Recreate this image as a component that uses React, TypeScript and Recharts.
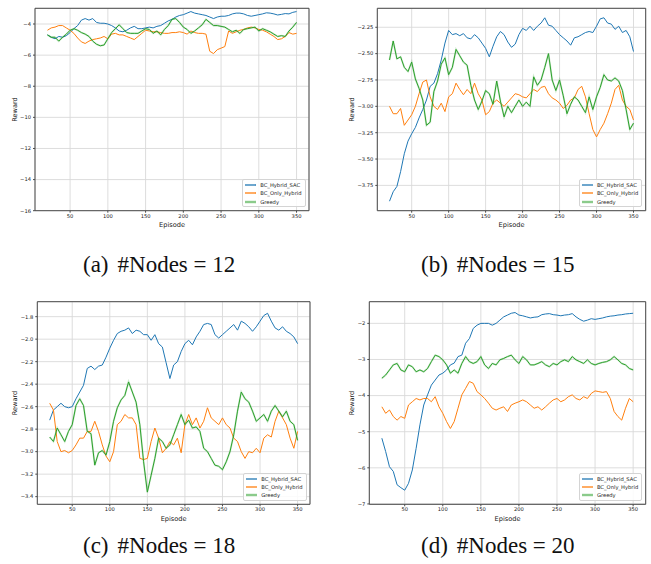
import {
  CartesianGrid,
  Label,
  Legend,
  Line,
  LineChart,
  ReferenceArea,
  XAxis,
  YAxis,
} from "recharts";

const EPISODES = [
  20, 25, 30, 35, 40, 45, 50, 55, 60, 65, 70, 75, 80, 85, 90, 95, 100, 105, 110, 115,
  120, 125, 130, 135, 140, 145, 150, 155, 160, 165, 170, 175, 180, 185, 190, 195, 200,
  205, 210, 215, 220, 225, 230, 235, 240, 245, 250, 255, 260, 265, 270, 275, 280, 285,
  290, 295, 300, 305, 310, 315, 320, 325, 330, 335, 340, 345, 350,
];

// #Nodes = 12
const N12_SAC = [
  -4.7, -4.85, -4.95, -4.8, -4.85, -4.75, -4.55, -4.3, -4.1, -3.75,
  -3.65, -3.75, -3.65, -3.9, -3.95, -3.95, -4.0, -4.1, -4.25, -4.45,
  -4.5, -4.4, -4.25, -4.15, -4.3, -4.3, -4.25, -4.2, -4.25, -4.15,
  -4.1, -3.95, -3.8, -3.7, -3.55, -3.45, -3.4, -3.3, -3.2, -3.3,
  -3.35, -3.4, -3.45, -3.55, -3.65, -3.55, -3.5, -3.5, -3.45, -3.35,
  -3.3, -3.3, -3.35, -3.45, -3.5, -3.45, -3.4, -3.35, -3.28, -3.3,
  -3.35, -3.42, -3.38, -3.33, -3.35, -3.25, -3.2,
];
const N12_ONLY = [
  -4.4, -4.25, -4.2, -4.1, -4.1, -4.25, -4.4, -4.6, -4.9, -5.15,
  -5.25, -5.1, -5.0, -4.95, -4.9, -4.8, -4.95, -4.65, -4.6, -4.7,
  -4.7, -4.8, -4.9, -5.0, -4.8, -4.6, -4.4, -4.45, -4.5, -4.5,
  -4.55, -4.6, -4.6, -4.55, -4.55, -4.5, -4.55, -4.65, -4.45, -4.55,
  -4.6, -4.6, -4.65, -5.75, -5.9, -5.65, -5.55, -5.45, -4.45, -4.6,
  -4.5, -4.4, -4.35, -4.25, -4.2, -4.25, -4.35, -4.4, -4.5, -4.65,
  -4.8, -5.0, -4.95, -4.8, -4.55, -4.65, -4.6,
];
const N12_GREEDY = [
  -4.7, -4.85, -4.85, -5.1, -4.85, -4.65, -4.4, -4.3, -4.4, -4.55,
  -4.65, -4.8, -5.1, -5.3, -5.4, -5.35, -4.95, -4.55, -4.3, -4.05,
  -4.3, -4.55, -4.6, -4.6, -4.6, -4.45, -4.3, -4.35, -4.6, -4.45,
  -4.7, -4.35, -4.1, -3.7, -3.65, -3.9, -4.2, -4.35, -4.6, -4.45,
  -4.25, -4.05, -3.7, -3.9, -4.1, -4.1, -4.15, -4.2, -4.35, -4.5,
  -4.4, -4.6, -4.35, -4.3, -4.25, -4.2, -4.45, -4.3, -4.4, -4.5,
  -4.65, -4.8, -4.75, -4.8, -4.45, -4.2, -3.9,
];

// #Nodes = 15
const N15_SAC = [
  -3.9, -3.81, -3.76, -3.62, -3.45, -3.33, -3.26, -3.2, -3.11, -3.03,
  -2.94, -2.81, -2.78, -2.69, -2.56, -2.4, -2.28, -2.32, -2.31, -2.33,
  -2.31, -2.35, -2.36, -2.32, -2.35, -2.4, -2.45, -2.53, -2.43, -2.34,
  -2.29, -2.32, -2.39, -2.44, -2.41, -2.32, -2.26, -2.28, -2.24, -2.28,
  -2.24, -2.21, -2.16, -2.23, -2.24, -2.28, -2.32, -2.35, -2.38, -2.42,
  -2.35, -2.34, -2.32, -2.3, -2.29, -2.3, -2.24, -2.17, -2.16, -2.21,
  -2.22, -2.27, -2.24, -2.3, -2.28, -2.34, -2.48,
];
const N15_ONLY = [
  -3.0, -3.07, -3.07, -3.02, -3.18, -3.13, -3.08, -3.0, -2.88, -2.77,
  -2.75, -2.91, -3.0, -3.03, -2.97, -3.05, -2.91, -2.88, -2.78, -2.84,
  -2.89, -2.84, -2.88, -2.78, -2.88, -2.94, -3.08, -3.05, -2.97, -2.94,
  -2.97, -3.0, -2.96, -2.92, -2.88, -2.89, -2.91, -2.92, -2.88, -2.84,
  -2.86, -2.82, -2.81, -2.88, -2.92, -2.94, -2.97, -3.02, -2.99, -2.94,
  -2.92, -2.84, -2.81, -2.91, -3.07, -3.22, -3.29, -3.22, -3.16, -3.07,
  -2.97, -2.84, -2.8, -2.94, -3.0, -3.03, -3.13,
];
const N15_GREEDY = [
  -2.56, -2.38, -2.55, -2.53, -2.63, -2.67, -2.58, -2.74, -2.83, -2.94,
  -3.18, -3.15, -2.86, -2.76, -2.6, -2.54, -2.7, -2.63, -2.46, -2.52,
  -2.58, -2.61, -2.8, -2.94, -3.03, -2.95, -2.85, -2.88, -2.98, -2.76,
  -2.95, -3.1, -3.0, -3.06, -3.0, -2.94, -3.0, -2.96, -3.0, -2.72,
  -2.8, -2.75, -2.63, -2.5, -2.75, -2.85, -2.75, -2.9, -3.07, -2.98,
  -2.91, -2.94, -3.0, -3.06, -2.91, -3.03, -2.91, -2.82, -2.7, -2.75,
  -2.76, -2.73, -2.76, -2.85, -3.03, -3.22, -3.16,
];

// #Nodes = 18
const N18_SAC = [
  -2.72, -2.63, -2.6, -2.57, -2.6, -2.61, -2.6, -2.53, -2.47, -2.41,
  -2.26, -2.24, -2.27, -2.24, -2.23, -2.16, -2.08, -2.01, -1.95, -1.93,
  -1.92, -1.9, -1.95, -1.92, -1.93, -1.96, -1.96, -2.01, -1.96, -2.04,
  -2.07, -2.21, -2.35, -2.23, -2.2, -2.11, -2.04, -2.01, -2.05, -1.98,
  -1.93, -1.87, -1.86, -1.87, -1.96, -1.99, -1.96, -1.93, -1.9, -1.87,
  -1.92, -1.84, -1.86, -1.89, -1.93, -1.89, -1.84, -1.79, -1.77, -1.84,
  -1.9, -1.92, -1.89, -1.93, -1.95, -1.98, -2.04,
];
const N18_ONLY = [
  -2.57, -2.63, -2.91, -3.0, -2.99, -3.01, -2.99, -2.94, -2.88, -2.88,
  -2.82, -2.82, -2.73, -2.82, -2.94, -3.04, -3.09, -3.0, -2.76, -2.73,
  -2.67, -2.7, -2.7, -2.76, -3.06, -3.07, -3.06, -2.91, -2.79, -2.88,
  -3.01, -2.97, -2.91, -2.94, -2.88, -3.01, -2.76, -2.67, -2.76, -2.7,
  -2.79, -2.73, -2.61, -2.7, -2.73, -2.76, -2.7, -2.76, -2.79, -2.88,
  -2.91, -3.0, -3.06, -3.0, -3.01, -2.97, -3.01, -2.88, -2.85, -2.87,
  -2.73, -2.64, -2.7, -2.76, -2.88, -2.97, -2.82,
];
const N18_GREEDY = [
  -2.87, -2.91, -2.79, -2.85, -2.91, -2.82, -2.76, -2.59, -2.53, -2.59,
  -2.82, -2.84, -3.12, -3.01, -2.99, -3.03, -2.91, -2.73, -2.61, -2.54,
  -2.5, -2.38, -2.47, -2.56, -2.76, -3.09, -3.36, -3.21, -3.06, -2.88,
  -2.91, -2.97, -2.94, -2.85, -2.76, -2.67, -2.76, -2.72, -2.79, -2.78,
  -2.82, -2.97, -3.0, -3.06, -3.12, -3.13, -3.16, -3.09, -3.0, -2.85,
  -2.64, -2.47, -2.53, -2.56, -2.64, -2.73, -2.7, -2.67, -2.73, -2.64,
  -2.59, -2.64, -2.69, -2.64, -2.73, -2.76, -2.9,
];

// #Nodes = 20
const N20_SAC = [
  -5.18, -5.55, -5.97, -6.1, -6.47, -6.55, -6.62, -6.43, -6.06, -5.46,
  -4.81, -4.26, -3.98, -3.71, -3.57, -3.43, -3.38, -3.29, -3.15, -3.1,
  -2.92, -2.88, -2.55, -2.42, -2.14, -2.05, -2.0, -2.0, -2.0, -2.05,
  -2.0, -1.91, -1.82, -1.77, -1.72, -1.7, -1.77, -1.79, -1.82, -1.85,
  -1.83, -1.82, -1.76, -1.74, -1.73, -1.76, -1.77, -1.79, -1.77, -1.76,
  -1.73, -1.82, -1.89, -1.94, -1.91, -1.87, -1.89, -1.87, -1.85, -1.82,
  -1.8, -1.79, -1.77, -1.76, -1.74, -1.73, -1.72,
];
const N20_ONLY = [
  -4.31, -4.49, -4.4, -4.58, -4.68, -4.58, -4.63, -4.26, -4.17, -4.08,
  -4.12, -4.08, -4.08, -4.17, -4.03, -4.31, -4.49, -4.72, -4.91, -4.72,
  -4.35, -3.98, -3.8, -3.61, -3.66, -3.89, -3.98, -4.08, -4.21, -4.35,
  -4.4, -4.35, -4.31, -4.44, -4.26, -4.21, -4.17, -4.12, -4.17, -4.26,
  -4.35, -4.31, -4.4, -4.31, -4.21, -4.12, -4.08, -4.17, -4.12, -4.03,
  -3.98, -4.08, -4.12, -4.03, -4.08, -3.94, -3.87, -3.89, -3.91, -3.89,
  -4.08, -4.44, -4.58, -4.68, -4.35, -4.08, -4.17,
];
const N20_GREEDY = [
  -3.52, -3.43, -3.29, -3.15, -3.11, -3.29, -3.34, -3.15, -3.2, -3.34,
  -3.29, -3.34, -3.25, -3.06, -2.88, -2.92, -3.01, -3.15, -3.38, -3.29,
  -3.38, -3.11, -2.92, -3.06, -3.11, -3.06, -2.92, -3.15, -3.25, -3.11,
  -3.15, -3.01, -2.97, -2.92, -2.88, -3.01, -3.11, -2.92, -3.01, -3.15,
  -3.15, -3.11, -3.06, -3.15, -3.2, -3.11, -3.15, -3.06, -3.01, -3.06,
  -2.92, -3.01, -3.06, -3.11, -3.01, -3.11, -3.15, -3.11, -3.08, -3.06,
  -3.01, -2.92, -3.01, -3.11, -3.15, -3.25, -3.29,
];

const X_TICKS = [50, 100, 150, 200, 250, 300, 350];
const X_DOMAIN: [number, number] = [3.5, 366.5];

const SERIES = [
  { key: "sac", label: "BC_Hybrid_SAC", color: "#1f77b4" },
  { key: "only", label: "BC_Only_Hybrid", color: "#ff7f0e" },
  { key: "greedy", label: "Greedy", color: "#2ca02c" },
] as const;

const TICK_FONT = { fill: "#222", fontSize: 5.2, fontFamily: "DejaVu Sans" };
const GRID = "#d9d9d9";
const FRAME = "#4a4a4a";

// page-space boxes for each subplot: chart box, plot area, y-label x
const PANELS = [
  {
    tag: "(a)",
    caption: "#Nodes = 12",
    sac: N12_SAC,
    only: N12_ONLY,
    greedy: N12_GREEDY,
    yDomain: [-16, -2.99] as [number, number],
    yTicks: [-16, -14, -12, -10, -8, -6, -4],
    digits: 0,
    box: { x: 0, y: 0, w: 325, h: 240 },
    plot: { l: 35, t: 8.3, r: 309, b: 210.7 },
    rewardX: 15,
    caption_x: 83,
    caption_y: 253.3,
  },
  {
    tag: "(b)",
    caption: "#Nodes = 15",
    sac: N15_SAC,
    only: N15_ONLY,
    greedy: N15_GREEDY,
    yDomain: [-3.99, -2.07] as [number, number],
    yTicks: [-3.75, -3.5, -3.25, -3.0, -2.75, -2.5, -2.25],
    digits: 2,
    box: { x: 325, y: 0, w: 326, h: 240 },
    plot: { l: 377.3, t: 8.3, r: 645.7, b: 210.7 },
    rewardX: 352,
    caption_x: 421,
    caption_y: 253.3,
  },
  {
    tag: "(c)",
    caption: "#Nodes = 18",
    sac: N18_SAC,
    only: N18_ONLY,
    greedy: N18_GREEDY,
    yDomain: [-3.468, -1.667] as [number, number],
    yTicks: [-3.4, -3.2, -3.0, -2.8, -2.6, -2.4, -2.2, -2.0, -1.8],
    digits: 1,
    box: { x: 0, y: 285, w: 325, h: 240 },
    plot: { l: 37.3, t: 301.7, r: 310, b: 504.3 },
    rewardX: 15,
    caption_x: 83,
    caption_y: 534.1,
  },
  {
    tag: "(d)",
    caption: "#Nodes = 20",
    sac: N20_SAC,
    only: N20_ONLY,
    greedy: N20_GREEDY,
    yDomain: [-7.01, -1.4] as [number, number],
    yTicks: [-7, -6, -5, -4, -3, -2],
    digits: 0,
    box: { x: 325, y: 285, w: 326, h: 240 },
    plot: { l: 369.3, t: 301.7, r: 645.7, b: 504.3 },
    rewardX: 352,
    caption_x: 421,
    caption_y: 534.1,
  },
];

type Panel = (typeof PANELS)[number];

function fmt(digits: number) {
  return (v: number) =>
    v < 0 ? `\u2212${Math.abs(v).toFixed(digits)}` : v.toFixed(digits);
}

function LegendBox() {
  return (
    <div
      style={{
        border: "1px solid #d4d4d4",
        borderRadius: 2,
        background: "rgba(255,255,255,0.85)",
        padding: "0.5px 3px 0.5px 2px",
        fontFamily: "DejaVu Sans",
        fontSize: 5.2,
        color: "#222",
      }}
    >
      {SERIES.map((s) => (
        <div key={s.key} style={{ display: "flex", alignItems: "center", height: 8.3 }}>
          <svg width={11} height={4} style={{ marginRight: 4 }}>
            <line
              x1={0}
              x2={11}
              y1={2}
              y2={2}
              stroke={s.color}
              strokeWidth={s.key === "greedy" ? 2.4 : 1.3}
              strokeOpacity={s.key === "greedy" ? 0.55 : 1}
            />
          </svg>
          <span style={{ whiteSpace: "nowrap" }}>{s.label}</span>
        </div>
      ))}
    </div>
  );
}

function RewardChart({ p }: { p: Panel }) {
  const rows = EPISODES.map((ep, i) => ({
    ep,
    sac: p.sac[i],
    only: p.only[i],
    greedy: p.greedy[i],
  }));
  const yAxisWidth = p.plot.l - p.box.x;
  const xAxisHeight = p.box.y + p.box.h - p.plot.b;
  const rightGap = p.box.x + p.box.w - p.plot.r;
  const midY = (p.plot.t + p.plot.b) / 2 - p.box.y;
  const midX = (p.plot.l + p.plot.r) / 2 - p.box.x;

  return (
    <div style={{ position: "absolute", left: p.box.x, top: p.box.y }}>
      <LineChart
        width={p.box.w}
        height={p.box.h}
        data={rows}
        margin={{ top: p.plot.t - p.box.y, right: rightGap, bottom: 0, left: 0 }}
      >
        <CartesianGrid stroke={GRID} strokeWidth={0.9} />
        <XAxis
          dataKey="ep"
          type="number"
          domain={X_DOMAIN}
          ticks={X_TICKS}
          allowDataOverflow
          height={xAxisHeight}
          tick={TICK_FONT}
          tickSize={2}
          tickMargin={1.5}
          tickLine={{ stroke: FRAME }}
          axisLine={false}
        >
          <Label
            content={() => (
              <text
                x={midX}
                y={p.plot.b - p.box.y + 16.5}
                textAnchor="middle"
                fontFamily="DejaVu Sans"
                fontSize={6.6}
                fill="#222"
              >
                Episode
              </text>
            )}
          />
        </XAxis>
        <YAxis
          type="number"
          domain={p.yDomain}
          ticks={p.yTicks}
          allowDataOverflow
          interval={0}
          width={yAxisWidth}
          tickFormatter={fmt(p.digits)}
          tick={TICK_FONT}
          tickSize={2}
          tickMargin={2}
          tickLine={{ stroke: FRAME }}
          axisLine={false}
        >
          <Label
            content={() => (
              <text
                x={p.rewardX - p.box.x}
                y={midY}
                textAnchor="middle"
                dominantBaseline="central"
                transform={`rotate(-90 ${p.rewardX - p.box.x} ${midY})`}
                fontFamily="DejaVu Sans"
                fontSize={6.6}
                fill="#222"
              >
                Reward
              </text>
            )}
          />
        </YAxis>
        <Line
          dataKey="sac"
          name="BC_Hybrid_SAC"
          type="linear"
          stroke={SERIES[0].color}
          strokeWidth={1}
          dot={false}
          isAnimationActive={false}
        />
        <Line
          dataKey="only"
          name="BC_Only_Hybrid"
          type="linear"
          stroke={SERIES[1].color}
          strokeWidth={1}
          dot={false}
          isAnimationActive={false}
        />
        <Line
          dataKey="greedy"
          name="Greedy halo"
          legendType="none"
          type="linear"
          stroke={SERIES[2].color}
          strokeOpacity={0.22}
          strokeWidth={1.9}
          dot={false}
          isAnimationActive={false}
        />
        <Line
          dataKey="greedy"
          name="Greedy"
          type="linear"
          stroke={SERIES[2].color}
          strokeWidth={1}
          dot={false}
          isAnimationActive={false}
        />
        <ReferenceArea
          x1={X_DOMAIN[0]}
          x2={X_DOMAIN[1]}
          y1={p.yDomain[0]}
          y2={p.yDomain[1]}
          fill="none"
          stroke={FRAME}
          strokeWidth={1}
        />
        <Legend
          layout="vertical"
          align="center"
          verticalAlign="middle"
          content={() => <LegendBox />}
          wrapperStyle={{
            right: rightGap + 3.5,
            bottom: xAxisHeight + 3.5,
            width: "auto",
            height: "auto",
          }}
        />
      </LineChart>
    </div>
  );
}

export default function App() {
  return (
    <div
      style={{
        position: "absolute",
        left: 0,
        top: 0,
        width: 651,
        height: 564,
        background: "#fff",
        overflow: "hidden",
      }}
    >
      {PANELS.map((p) => (
        <RewardChart key={p.tag} p={p} />
      ))}
      {PANELS.map((p) => (
        <div
          key={`cap-${p.tag}`}
          style={{
            position: "absolute",
            left: p.caption_x,
            top: p.caption_y,
            fontFamily: "Liberation Serif",
            fontSize: 23,
            lineHeight: "23px",
            color: "#111",
            whiteSpace: "nowrap",
          }}
        >
          <span style={{ marginRight: 9 }}>{p.tag}</span>
          {p.caption}
        </div>
      ))}
    </div>
  );
}
